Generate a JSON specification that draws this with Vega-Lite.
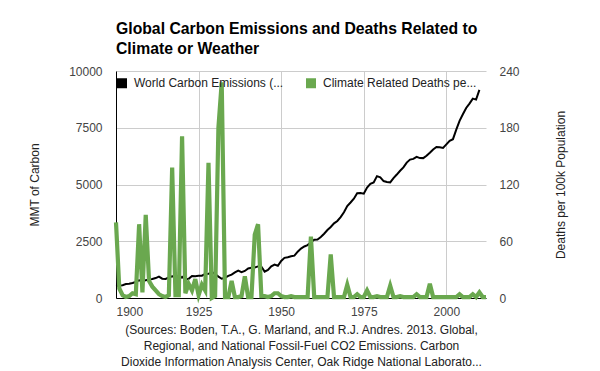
{
  "$schema": "https://vega.github.io/schema/vega-lite/v6.json",
  "autosize": "none",
  "padding": {"left": 116, "top": 71, "right": 114, "bottom": 73},
  "width": 370,
  "height": 227,
  "background": "white",
  "title": {
    "text": ["Global Carbon Emissions and Deaths Related to", "Climate or Weather"],
    "anchor": "start",
    "frame": "group",
    "font": "Liberation Sans",
    "fontSize": 15.75,
    "fontWeight": "bold",
    "color": "#000000",
    "lineHeight": 20,
    "baseline": "alphabetic",
    "offset": 39,
    "dy": 44
  },
  "data": {
    "values": [
      {"year": 1900, "carbon": 534, "deaths": 80},
      {"year": 1901, "carbon": 552, "deaths": 10},
      {"year": 1902, "carbon": 566, "deaths": 3},
      {"year": 1903, "carbon": 617, "deaths": 1},
      {"year": 1904, "carbon": 624, "deaths": 2},
      {"year": 1905, "carbon": 663, "deaths": 5},
      {"year": 1906, "carbon": 707, "deaths": 4},
      {"year": 1907, "carbon": 784, "deaths": 78},
      {"year": 1908, "carbon": 750, "deaths": 6},
      {"year": 1909, "carbon": 785, "deaths": 88},
      {"year": 1910, "carbon": 819, "deaths": 18},
      {"year": 1911, "carbon": 836, "deaths": 12},
      {"year": 1912, "carbon": 879, "deaths": 8},
      {"year": 1913, "carbon": 943, "deaths": 4},
      {"year": 1914, "carbon": 850, "deaths": 2},
      {"year": 1915, "carbon": 838, "deaths": 1},
      {"year": 1916, "carbon": 901, "deaths": 3},
      {"year": 1917, "carbon": 955, "deaths": 138},
      {"year": 1918, "carbon": 936, "deaths": 3},
      {"year": 1919, "carbon": 806, "deaths": 3},
      {"year": 1920, "carbon": 932, "deaths": 171},
      {"year": 1921, "carbon": 803, "deaths": 5},
      {"year": 1922, "carbon": 845, "deaths": 15},
      {"year": 1923, "carbon": 970, "deaths": 8},
      {"year": 1924, "carbon": 963, "deaths": 20},
      {"year": 1925, "carbon": 975, "deaths": 3},
      {"year": 1926, "carbon": 983, "deaths": 14},
      {"year": 1927, "carbon": 1062, "deaths": 8},
      {"year": 1928, "carbon": 1065, "deaths": 143},
      {"year": 1929, "carbon": 1145, "deaths": 0},
      {"year": 1930, "carbon": 1053, "deaths": 2},
      {"year": 1931, "carbon": 940, "deaths": 180},
      {"year": 1932, "carbon": 847, "deaths": 228},
      {"year": 1933, "carbon": 893, "deaths": 1},
      {"year": 1934, "carbon": 973, "deaths": 1},
      {"year": 1935, "carbon": 1027, "deaths": 18},
      {"year": 1936, "carbon": 1130, "deaths": 1},
      {"year": 1937, "carbon": 1209, "deaths": 1},
      {"year": 1938, "carbon": 1142, "deaths": 2},
      {"year": 1939, "carbon": 1192, "deaths": 23},
      {"year": 1940, "carbon": 1299, "deaths": 1},
      {"year": 1941, "carbon": 1334, "deaths": 1},
      {"year": 1942, "carbon": 1342, "deaths": 67},
      {"year": 1943, "carbon": 1391, "deaths": 78},
      {"year": 1944, "carbon": 1383, "deaths": 2},
      {"year": 1945, "carbon": 1160, "deaths": 2},
      {"year": 1946, "carbon": 1238, "deaths": 1},
      {"year": 1947, "carbon": 1392, "deaths": 2},
      {"year": 1948, "carbon": 1469, "deaths": 5},
      {"year": 1949, "carbon": 1419, "deaths": 5},
      {"year": 1950, "carbon": 1630, "deaths": 2},
      {"year": 1951, "carbon": 1767, "deaths": 1},
      {"year": 1952, "carbon": 1795, "deaths": 1},
      {"year": 1953, "carbon": 1841, "deaths": 2},
      {"year": 1954, "carbon": 1865, "deaths": 1},
      {"year": 1955, "carbon": 2042, "deaths": 1},
      {"year": 1956, "carbon": 2177, "deaths": 1},
      {"year": 1957, "carbon": 2270, "deaths": 1},
      {"year": 1958, "carbon": 2330, "deaths": 1},
      {"year": 1959, "carbon": 2454, "deaths": 65},
      {"year": 1960, "carbon": 2569, "deaths": 1},
      {"year": 1961, "carbon": 2580, "deaths": 1},
      {"year": 1962, "carbon": 2686, "deaths": 1},
      {"year": 1963, "carbon": 2833, "deaths": 1},
      {"year": 1964, "carbon": 2995, "deaths": 1},
      {"year": 1965, "carbon": 3130, "deaths": 46},
      {"year": 1966, "carbon": 3288, "deaths": 1},
      {"year": 1967, "carbon": 3393, "deaths": 1},
      {"year": 1968, "carbon": 3566, "deaths": 1},
      {"year": 1969, "carbon": 3780, "deaths": 1},
      {"year": 1970, "carbon": 4053, "deaths": 14},
      {"year": 1971, "carbon": 4208, "deaths": 1},
      {"year": 1972, "carbon": 4376, "deaths": 1},
      {"year": 1973, "carbon": 4614, "deaths": 4},
      {"year": 1974, "carbon": 4623, "deaths": 1},
      {"year": 1975, "carbon": 4596, "deaths": 1},
      {"year": 1976, "carbon": 4864, "deaths": 8},
      {"year": 1977, "carbon": 5026, "deaths": 1},
      {"year": 1978, "carbon": 5087, "deaths": 1},
      {"year": 1979, "carbon": 5369, "deaths": 2},
      {"year": 1980, "carbon": 5315, "deaths": 1},
      {"year": 1981, "carbon": 5152, "deaths": 1},
      {"year": 1982, "carbon": 5113, "deaths": 1},
      {"year": 1983, "carbon": 5094, "deaths": 13},
      {"year": 1984, "carbon": 5280, "deaths": 1},
      {"year": 1985, "carbon": 5439, "deaths": 1},
      {"year": 1986, "carbon": 5607, "deaths": 2},
      {"year": 1987, "carbon": 5752, "deaths": 1},
      {"year": 1988, "carbon": 5965, "deaths": 1},
      {"year": 1989, "carbon": 6097, "deaths": 1},
      {"year": 1990, "carbon": 6127, "deaths": 1},
      {"year": 1991, "carbon": 6217, "deaths": 4},
      {"year": 1992, "carbon": 6164, "deaths": 1},
      {"year": 1993, "carbon": 6162, "deaths": 1},
      {"year": 1994, "carbon": 6266, "deaths": 1},
      {"year": 1995, "carbon": 6398, "deaths": 15},
      {"year": 1996, "carbon": 6542, "deaths": 1},
      {"year": 1997, "carbon": 6651, "deaths": 1},
      {"year": 1998, "carbon": 6643, "deaths": 1},
      {"year": 1999, "carbon": 6610, "deaths": 1},
      {"year": 2000, "carbon": 6765, "deaths": 1},
      {"year": 2001, "carbon": 6927, "deaths": 1},
      {"year": 2002, "carbon": 6996, "deaths": 1},
      {"year": 2003, "carbon": 7416, "deaths": 1},
      {"year": 2004, "carbon": 7807, "deaths": 4},
      {"year": 2005, "carbon": 8093, "deaths": 1},
      {"year": 2006, "carbon": 8370, "deaths": 1},
      {"year": 2007, "carbon": 8566, "deaths": 1},
      {"year": 2008, "carbon": 8783, "deaths": 4},
      {"year": 2009, "carbon": 8740, "deaths": 1},
      {"year": 2010, "carbon": 9167, "deaths": 6},
      {"year": 2011, "carbon": null, "deaths": 1},
      {"year": 2012, "carbon": null, "deaths": 1}
    ]
  },
  "encoding": {
    "x": {
      "field": "year",
      "type": "quantitative",
      "scale": {"domain": [1900, 2012], "nice": false, "zero": false},
      "axis": {
        "values": [1900, 1925, 1950, 1975, 2000],
        "format": "d",
        "grid": true,
        "domain": true,
        "labelBaseline": "top",
        "labelPadding": 8,
        "title": ["(Sources: Boden, T.A., G. Marland, and R.J. Andres. 2013. Global,", "Regional, and National Fossil-Fuel CO2 Emissions. Carbon", "Dioxide Information Analysis Center, Oak Ridge National Laborato..."],
        "titleBaseline": "alphabetic",
        "titleLineHeight": 15.8,
        "titleX": 185,
        "titleY": 35.5,
        "titleAlign": "center",
        "titleColor": "#222222"
      }
    }
  },
  "layer": [
    {
      "mark": {"type": "line", "strokeWidth": 2, "color": "#000000"},
      "encoding": {
        "y": {
          "field": "carbon",
          "type": "quantitative",
          "scale": {"domain": [0, 10000], "nice": false},
          "axis": {
            "orient": "left",
            "values": [0, 2500, 5000, 7500, 10000],
            "format": "d",
            "grid": true,
            "domain": true,
            "labelPadding": 14,
            "title": "MMT of Carbon",
            "titleX": -82,
            "titleY": 113.5,
            "titleAngle": 270,
            "titleBaseline": "middle",
            "titleAlign": "center"
          }
        },
        "color": {
          "datum": "World Carbon Emissions (...",
          "type": "nominal",
          "scale": {
            "domain": ["World Carbon Emissions (...", "Climate Related Deaths pe..."],
            "range": ["#000000", "#6aa84f"]
          },
          "legend": {
            "orient": "none",
            "legendX": 0,
            "legendY": 6,
            "direction": "horizontal",
            "title": null,
            "symbolType": "square",
            "symbolSize": 25,
            "symbolStrokeWidth": 5,
            "symbolOpacity": 1,
            "labelFont": "Liberation Sans",
            "labelFontSize": 12,
            "labelColor": "#222222",
            "labelOffset": 6,
            "labelLimit": 400,
            "columnPadding": 14,
            "padding": 0
          }
        }
      }
    },
    {
      "mark": {"type": "line", "strokeWidth": 4.2, "color": "#6aa84f"},
      "encoding": {
        "y": {
          "field": "deaths",
          "type": "quantitative",
          "scale": {"domain": [0, 240], "nice": false},
          "axis": {
            "orient": "right",
            "values": [0, 60, 120, 180, 240],
            "grid": false,
            "domain": false,
            "labelPadding": 13,
            "title": "Deaths per 100k Population",
            "titleX": 74.5,
            "titleY": 113.5,
            "titleAngle": 270,
            "titleBaseline": "middle",
            "titleAlign": "center"
          }
        },
        "color": {"datum": "Climate Related Deaths pe...", "type": "nominal"}
      }
    }
  ],
  "resolve": {"scale": {"y": "independent"}},
  "config": {
    "view": {"stroke": null},
    "axis": {
      "labelFont": "Liberation Sans",
      "titleFont": "Liberation Sans",
      "labelFontSize": 12,
      "titleFontSize": 12,
      "titleFontWeight": "normal",
      "labelColor": "#444444",
      "titleColor": "#222222",
      "ticks": false,
      "gridColor": "#cccccc",
      "gridWidth": 1,
      "domainColor": "#000000",
      "domainWidth": 1
    }
  }
}
